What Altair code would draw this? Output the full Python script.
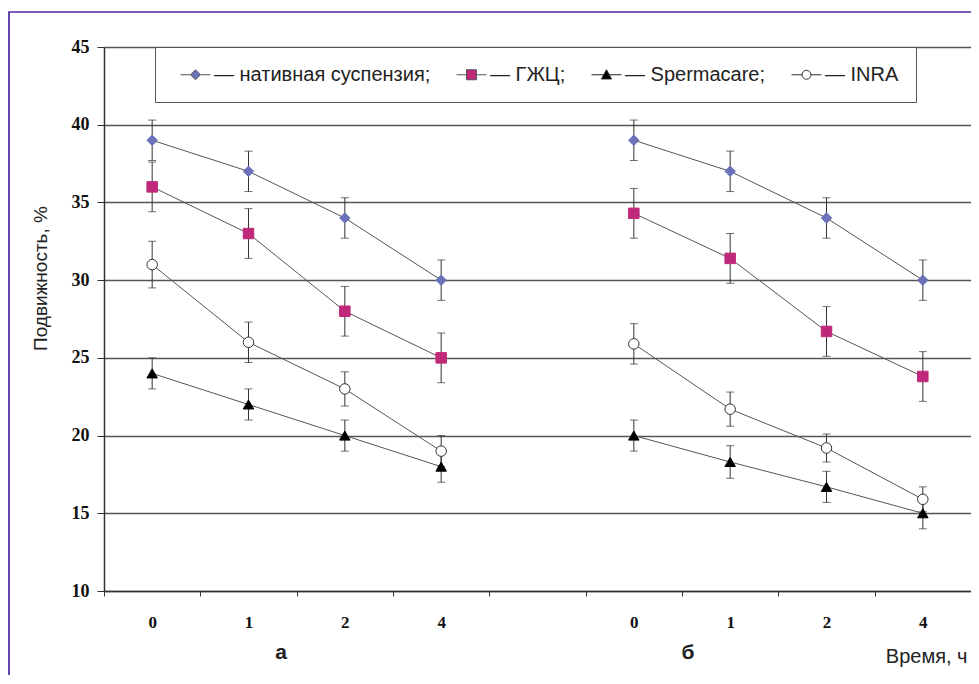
import altair as alt
import pandas as pd

# ---------------- data ----------------
x_domain = ["a0", "a1", "a2", "a4", "gap", "b0", "b1", "b2", "b4"]
time_labels = ["0", "1", "2", "4"]
series_names = ["нативная суспензия", "ГЖЦ", "Spermacare", "INRA"]
legend_labels = ["— нативная суспензия;", "— ГЖЦ;", "— Spermacare;", "— INRA"]

native_a = [39, 37, 34, 30]
native_b = [39, 37, 34, 30]
gzhc_a = [36, 33, 28, 25]
gzhc_b = [34.3, 31.4, 26.7, 23.8]
sperm_a = [24, 22, 20, 18]
sperm_b = [20, 18.3, 16.7, 15]
inra_a = [31, 26, 23, 19]
inra_b = [25.9, 21.7, 19.2, 15.9]

native_err_a = [1.3, 1.3, 1.3, 1.3]
native_err_b = [1.3, 1.3, 1.3, 1.3]
gzhc_err_a = [1.6, 1.6, 1.6, 1.6]
gzhc_err_b = [1.6, 1.6, 1.6, 1.6]
sperm_err_a = [1.0, 1.0, 1.0, 1.0]
sperm_err_b = [1.0, 1.05, 1.0, 1.0]
inra_err_a = [1.5, 1.3, 1.1, 1.0]
inra_err_b = [1.3, 1.1, 0.9, 0.8]

series_values = {
    "нативная суспензия": (native_a, native_b, native_err_a, native_err_b),
    "ГЖЦ": (gzhc_a, gzhc_b, gzhc_err_a, gzhc_err_b),
    "Spermacare": (sperm_a, sperm_b, sperm_err_a, sperm_err_b),
    "INRA": (inra_a, inra_b, inra_err_a, inra_err_b),
}

rows = []
for s in series_names:
    va, vb, ea, eb = series_values[s]
    for panel, vals, errs in (("a", va, ea), ("b", vb, eb)):
        for t, v, e in zip(time_labels, vals, errs):
            rows.append({"cat": panel + t, "series": s, "grp": s + panel,
                         "value": v, "lo": v - e, "hi": v + e})
df = pd.DataFrame(rows)

point_shapes = ["diamond", "square", "triangle-up", "circle"]
point_fill = ["#6c72b9", "#c0287a", "#000000", "#ffffff"]
point_stroke = ["#6c72b9", "#c0287a", "#000000", "#333333"]

legend_shapes = [
    "M-0.2,0H0.8M1.8,0H2.8M1.3,-0.5L1.8,0L1.3,0.5L0.8,0Z",
    "M-0.2,0H0.8M1.8,0H2.8M0.8,-0.5H1.8V0.5H0.8Z",
    "M-0.2,0H1.05M1.55,0H2.8M1.3,-0.5L1.8,0.42L0.8,0.42Z",
    "M-0.2,0H0.85M1.75,0H2.8M1.75,0A0.45,0.45,0,1,1,0.85,0A0.45,0.45,0,1,1,1.75,0Z",
]
legend_stroke = ["#555555", "#555555", "#222222", "#333333"]

W, H = 867, 544

x_scale = alt.Scale(type="band", domain=x_domain, paddingInner=0, paddingOuter=0)
y_scale = alt.Scale(domain=[10, 45], nice=False, zero=False)

x_axis = alt.Axis(
    tickBand="extent",
    labelExpr="isString(datum.value) && datum.value != 'gap' ? substring(datum.value, 1) : ''",
    labelAngle=0, labelFont="Liberation Serif", labelFontWeight="bold", labelFontSize=17,
    labelColor="#111", tickSize=5, labelPadding=18, domainColor="#333", tickColor="#333",
    domainWidth=1.5, grid=False, title="Время, ч", titleAnchor="end", titleAlign="right",
    titleX=863, titleY=55, titleBaseline="top", titleFont="Liberation Sans",
    titleFontSize=20, titleFontWeight="normal", titleColor="#222",
)
y_axis = alt.Axis(
    values=[10, 15, 20, 25, 30, 35, 40, 45], grid=True, gridColor="#555", gridWidth=1.5,
    domainColor="#333", domainWidth=1.5, tickColor="#333", tickSize=7,
    labelFont="Liberation Serif", labelFontWeight="bold", labelFontSize=18, labelColor="#111",
    labelPadding=8, title="Подвижность, %", titleFont="Liberation Sans", titleFontSize=19,
    titleFontWeight="normal", titleColor="#222", titleX=-64, titleY=231, titleAngle=270,
    titleAlign="center", titleBaseline="middle",
)

base = alt.Chart(df)
X = alt.X("cat:N", scale=x_scale, axis=x_axis, sort=x_domain)

lines = base.mark_line(color="#555", strokeWidth=1).encode(
    x=X,
    y=alt.Y("value:Q", scale=y_scale, axis=y_axis),
    detail="grp:N",
)

err = base.mark_rule(color="#333", strokeWidth=1).encode(
    x=X,
    y=alt.Y("lo:Q", scale=y_scale, axis=y_axis),
    y2="hi:Q",
)
cap_lo = base.mark_tick(color="#333", size=8, thickness=1).encode(
    x=X,
    y=alt.Y("lo:Q", scale=y_scale, axis=y_axis),
)
cap_hi = base.mark_tick(color="#333", size=8, thickness=1).encode(
    x=X,
    y=alt.Y("hi:Q", scale=y_scale, axis=y_axis),
)

points = base.mark_point(filled=True, size=110, strokeWidth=1, opacity=1).encode(
    x=X,
    y=alt.Y("value:Q", scale=y_scale, axis=y_axis),
    shape=alt.Shape("series:N", scale=alt.Scale(domain=series_names, range=point_shapes), legend=None),
    fill=alt.Fill("series:N", scale=alt.Scale(domain=series_names, range=point_fill), legend=None),
    stroke=alt.Stroke("series:N", scale=alt.Scale(domain=series_names, range=point_stroke), legend=None),
)

legend_df = pd.DataFrame({"legend": legend_labels})
leg = alt.Legend(
    title=None, orient="none", legendX=51, legendY=0, direction="horizontal", columns=4,
    fillColor="#ffffff", strokeColor="#555", padding=17, symbolSize=400, symbolStrokeWidth=1,
    symbolOpacity=1, labelFont="Liberation Sans", labelFontSize=20, labelColor="#222",
    labelOffset=21, columnPadding=17, labelLimit=400,
)
legend_layer = alt.Chart(legend_df).mark_point(filled=True, size=400, strokeWidth=1).encode(
    x=alt.value(0), y=alt.value(-3000),
    shape=alt.Shape("legend:N", scale=alt.Scale(domain=legend_labels, range=legend_shapes), legend=leg),
    fill=alt.Fill("legend:N", scale=alt.Scale(domain=legend_labels, range=point_fill), legend=leg),
    stroke=alt.Stroke("legend:N", scale=alt.Scale(domain=legend_labels, range=legend_stroke), legend=leg),
)

txt_a = alt.Chart(pd.DataFrame({"t": ["а"]})).mark_text(
    font="Liberation Sans", fontSize=21, fontWeight="bold", color="#222", baseline="middle"
).encode(text="t:N", x=alt.value(177), y=alt.value(606))
txt_b = alt.Chart(pd.DataFrame({"t": ["б"]})).mark_text(
    font="Liberation Sans", fontSize=21, fontWeight="bold", color="#222", baseline="middle"
).encode(text="t:N", x=alt.value(584), y=alt.value(606))

frame_df = pd.DataFrame({"k": [0]})
frame_top = alt.Chart(frame_df).mark_rule(color="#7a5db6", strokeWidth=2).encode(
    x=alt.value(-96), x2=alt.value(870), y=alt.value(-35)
)
frame_left = alt.Chart(frame_df).mark_rule(color="#6247ad", strokeWidth=2).encode(
    x=alt.value(-95), y=alt.value(-35), y2=alt.value(630)
)

chart = alt.layer(
    lines, err, cap_lo, cap_hi, points, legend_layer, txt_a, txt_b, frame_top, frame_left
).resolve_scale(
    shape="independent", fill="independent", stroke="independent"
).properties(
    width=W, height=H,
    padding={"left": 96, "top": 39, "right": 0, "bottom": 84},
    autosize=alt.AutoSizeParams(type="none"),
).configure_view(strokeWidth=0)

chart.save("out.html", embed_options={"renderer": "svg", "actions": False})
